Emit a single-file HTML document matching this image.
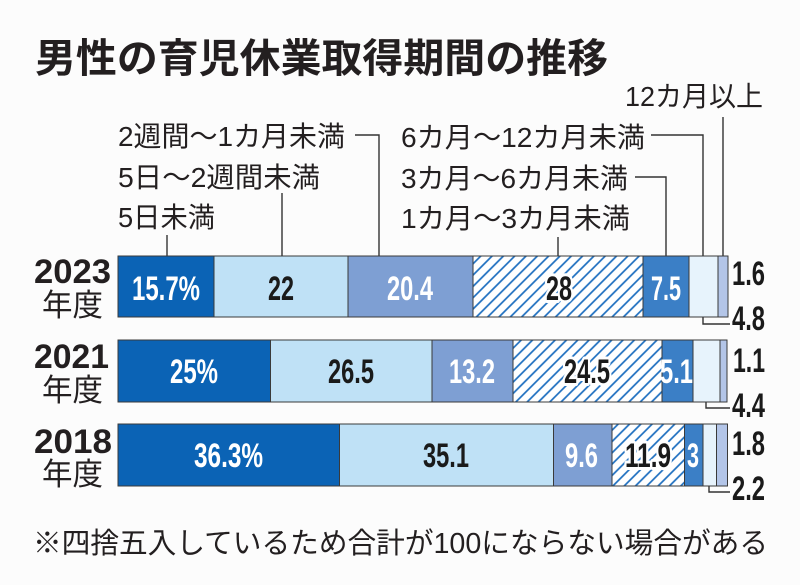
<!DOCTYPE html>
<html><head><meta charset="utf-8">
<style>
html,body{margin:0;padding:0;background:#fcfcfc;}
svg{display:block;}
.jp{font-family:"Liberation Sans","Noto Sans CJK JP",sans-serif;}
.num{font-family:"Liberation Sans","Noto Sans CJK JP",sans-serif;font-weight:bold;font-size:34px;}
</style></head>
<body>
<svg width="800" height="585" viewBox="0 0 800 585" xmlns="http://www.w3.org/2000/svg">
<defs>
<pattern id="h" width="8" height="8" patternUnits="userSpaceOnUse" patternTransform="rotate(45)">
<rect width="8" height="8" fill="#ffffff"/>
<line x1="1" y1="0" x2="1" y2="8" stroke="#1b6dbf" stroke-width="1.7"/>
</pattern>
</defs>
<rect width="800" height="585" fill="#fcfcfc"/>

<!-- title -->
<text class="jp" x="35" y="72" font-size="40" font-weight="bold" fill="#231f20" textLength="573" lengthAdjust="spacingAndGlyphs">男性の育児休業取得期間の推移</text>

<!-- legend labels -->
<g class="jp" font-size="28" fill="#231f20">
<text x="118" y="146" textLength="227" lengthAdjust="spacingAndGlyphs">2週間～1カ月未満</text>
<text x="118" y="187" textLength="202" lengthAdjust="spacingAndGlyphs">5日～2週間未満</text>
<text x="118" y="227" textLength="97" lengthAdjust="spacingAndGlyphs">5日未満</text>
<text x="625" y="106" textLength="138" lengthAdjust="spacingAndGlyphs">12カ月以上</text>
<text x="401" y="147" textLength="244" lengthAdjust="spacingAndGlyphs">6カ月～12カ月未満</text>
<text x="401" y="188" textLength="227" lengthAdjust="spacingAndGlyphs">3カ月～6カ月未満</text>
<text x="401" y="228" textLength="229" lengthAdjust="spacingAndGlyphs">1カ月～3カ月未満</text>
</g>

<!-- leader lines -->
<g stroke="#333" stroke-width="1.4" fill="none">
<path d="M167 235 V256"/>
<path d="M282 193 V256"/>
<path d="M355 135 H379 V256"/>
<path d="M558 237 V256"/>
<path d="M635 177 H666 V256"/>
<path d="M651 135 H703 V256"/>
<path d="M723 117 V256"/>
<path d="M703 317 V324 H730"/>
<path d="M706 402 V408 H730"/>
<path d="M709 486 V492 H730"/>
</g>

<!-- bars -->
<g stroke="#3a3a3a" stroke-width="1">
<!-- 2023 -->
<rect x="118" y="256" width="96" height="61" fill="#0b63b5"/>
<rect x="214" y="256" width="134" height="61" fill="#bfe1f6"/>
<rect x="348" y="256" width="125" height="61" fill="#7e9fd3"/>
<rect x="473" y="256" width="170" height="61" fill="url(#h)"/>
<rect x="643" y="256" width="46" height="61" fill="#3b7fc6"/>
<rect x="689" y="256" width="29" height="61" fill="#e7f3fc"/>
<rect x="718" y="256" width="10" height="61" fill="#b3c5e8"/>
<!-- 2021 -->
<rect x="118" y="340" width="152.5" height="62" fill="#0b63b5"/>
<rect x="270.5" y="340" width="161.5" height="62" fill="#bfe1f6"/>
<rect x="432" y="340" width="81" height="62" fill="#7e9fd3"/>
<rect x="513" y="340" width="149" height="62" fill="url(#h)"/>
<rect x="662" y="340" width="31" height="62" fill="#3b7fc6"/>
<rect x="693" y="340" width="27" height="62" fill="#e7f3fc"/>
<rect x="720" y="340" width="7" height="62" fill="#b3c5e8"/>
<!-- 2018 -->
<rect x="118" y="424" width="221.5" height="62" fill="#0b63b5"/>
<rect x="339.5" y="424" width="214" height="62" fill="#bfe1f6"/>
<rect x="553.5" y="424" width="58.5" height="62" fill="#7e9fd3"/>
<rect x="612" y="424" width="72.5" height="62" fill="url(#h)"/>
<rect x="684.5" y="424" width="18.5" height="62" fill="#3b7fc6"/>
<rect x="703" y="424" width="13.5" height="62" fill="#e7f3fc"/>
<rect x="716.5" y="424" width="11" height="62" fill="#b3c5e8"/>
</g>

<!-- year labels -->
<g fill="#231f20">
<text class="num" x="34" y="283" font-size="32" textLength="77" lengthAdjust="spacingAndGlyphs">2023</text>
<text class="jp" x="42" y="316" font-size="31" textLength="61" lengthAdjust="spacingAndGlyphs">年度</text>
<text class="num" x="34" y="368" font-size="32" textLength="75" lengthAdjust="spacingAndGlyphs">2021</text>
<text class="jp" x="42" y="401" font-size="31" textLength="61" lengthAdjust="spacingAndGlyphs">年度</text>
<text class="num" x="34" y="453" font-size="32" textLength="78" lengthAdjust="spacingAndGlyphs">2018</text>
<text class="jp" x="42" y="485" font-size="31" textLength="61" lengthAdjust="spacingAndGlyphs">年度</text>
</g>

<!-- values in bars -->
<g class="num">
<text x="132" y="300" fill="#fff" textLength="68" lengthAdjust="spacingAndGlyphs">15.7%</text>
<text x="268" y="300" fill="#1a1a1a" textLength="26" lengthAdjust="spacingAndGlyphs">22</text>
<text x="387" y="300" fill="#fff" textLength="46" lengthAdjust="spacingAndGlyphs">20.4</text>
<text x="546" y="300" fill="#1a1a1a" stroke="#fff" stroke-width="6" paint-order="stroke" stroke-linejoin="round" textLength="26" lengthAdjust="spacingAndGlyphs">28</text>
<text x="651" y="300" fill="#fff" textLength="30" lengthAdjust="spacingAndGlyphs">7.5</text>

<text x="170" y="383" fill="#fff" textLength="48" lengthAdjust="spacingAndGlyphs">25%</text>
<text x="328" y="383" fill="#1a1a1a" textLength="46" lengthAdjust="spacingAndGlyphs">26.5</text>
<text x="449" y="383" fill="#fff" textLength="46" lengthAdjust="spacingAndGlyphs">13.2</text>
<text x="564" y="383" fill="#1a1a1a" stroke="#fff" stroke-width="6" paint-order="stroke" stroke-linejoin="round" textLength="46" lengthAdjust="spacingAndGlyphs">24.5</text>
<text x="660" y="383" fill="#fff" textLength="33" lengthAdjust="spacingAndGlyphs">5.1</text>

<text x="194" y="467" fill="#fff" textLength="69" lengthAdjust="spacingAndGlyphs">36.3%</text>
<text x="423" y="467" fill="#1a1a1a" textLength="46" lengthAdjust="spacingAndGlyphs">35.1</text>
<text x="565" y="467" fill="#fff" textLength="33" lengthAdjust="spacingAndGlyphs">9.6</text>
<text x="625" y="467" fill="#1a1a1a" stroke="#fff" stroke-width="6" paint-order="stroke" stroke-linejoin="round" textLength="46" lengthAdjust="spacingAndGlyphs">11.9</text>
<text x="687" y="467" fill="#fff" textLength="12" lengthAdjust="spacingAndGlyphs">3</text>
</g>

<!-- right values -->
<g class="num" fill="#1a1a1a" font-size="32">
<text x="732" y="285" textLength="33" lengthAdjust="spacingAndGlyphs">1.6</text>
<text x="732" y="330" textLength="33" lengthAdjust="spacingAndGlyphs">4.8</text>
<text x="733" y="372" textLength="32" lengthAdjust="spacingAndGlyphs">1.1</text>
<text x="732" y="417" textLength="33" lengthAdjust="spacingAndGlyphs">4.4</text>
<text x="732" y="455" textLength="33" lengthAdjust="spacingAndGlyphs">1.8</text>
<text x="732" y="500" textLength="33" lengthAdjust="spacingAndGlyphs">2.2</text>
</g>

<!-- footnote -->
<text class="jp" x="33" y="553" font-size="29" fill="#231f20" textLength="735" lengthAdjust="spacingAndGlyphs">※四捨五入しているため合計が100にならない場合がある</text>
</svg>
</body></html>
